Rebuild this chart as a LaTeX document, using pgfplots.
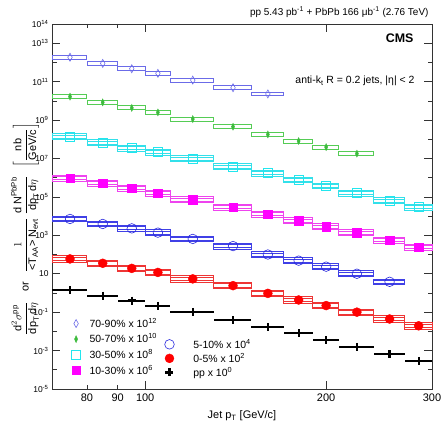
\documentclass[border=0pt]{standalone}
\usepackage{fontspec}
\setmainfont{Liberation Sans}
\usepackage{amsmath}
\usepackage{pgfplots}
\usepackage{pgfplotstable}
\pgfplotsset{compat=1.18}
\definecolor{cviol}{HTML}{6B6BE8}
\definecolor{cgreen}{HTML}{3DBB3D}
\definecolor{cgreenbox}{HTML}{55CC55}
\definecolor{ccyan}{HTML}{22E6EE}
\definecolor{ccyanbox}{HTML}{33E0EA}
\definecolor{cmag}{HTML}{FF00FF}
\definecolor{cmagbox}{HTML}{EE44EE}
\definecolor{cblue}{HTML}{2828DD}
\definecolor{cbluebox}{HTML}{4040E6}
\definecolor{cred}{HTML}{FF0000}
\definecolor{credbox}{HTML}{EE3535}

\pgfplotstableread{
x ex c70 c50 c30 c10 c5 c0 pp
75 5 1.86e12 1.66e10 1.35e8 9.3e5 7.1e3 59 1.41
85 5 8.9e11 8.3e9 6.6e7 5.1e5 3.9e3 35 0.72
95 5 4.7e11 4.3e9 3.5e7 2.8e5 2.3e3 19 0.40
105 5 2.7e11 2.5e9 2.1e7 1.55e5 1.38e3 11.7 0.21
120 10 1.2e11 1.12e9 9.8e6 7.4e4 650 5.4 0.102
140 10 4.8e10 4.5e8 3.8e6 2.9e4 275 2.4 0.039
160 10 2.3e10 1.78e8 1.7e6 1.26e4 100 0.95 0.0162
180 10 nan 8.1e7 7.6e5 5.8e3 48 0.43 0.0079
200 10 nan 3.9e7 3.7e5 2.8e3 23.4 0.22 0.0035
225 15 nan 1.78e7 1.55e5 1.38e3 10 0.1 0.00158
255 15 nan nan 6.3e4 550 3.8 0.044 6.6e-4
285 15 nan nan 2.9e4 245 nan 0.0195 2.95e-4
}\datatable

% bp per unit of ln(x): axis width 380bp over ln(300/70)
\def\xu{261.11}
\pgfdeclareplotmark{sysbox}{%
  \pgfpathrectanglecorners{\pgfpoint{-\wl bp}{-\pgfplotmarksize}}{\pgfpoint{\wr bp}{\pgfplotmarksize}}%
  \pgfpathrectanglecorners{\pgfpoint{-\wl bp}{-\pgfplotmarksize+1.4bp}}{\pgfpoint{\wr bp}{\pgfplotmarksize-1.4bp}}%
  \pgfusepathqstroke}
\pgfdeclareplotmark{sysboxs}{%
  \pgfpathrectanglecorners{\pgfpoint{-\wl bp}{-\pgfplotmarksize}}{\pgfpoint{\wr bp}{\pgfplotmarksize}}%
  \pgfusepathqstroke}
\pgfplotsset{
  sysbox/.style n args={3}{color=#1, only marks, forget plot, scatter, mark=#3, mark size=#2,
    visualization depends on={\xu*ln(\thisrow{x}/(\thisrow{x}-\thisrow{ex})) \as \wl},
    visualization depends on={\xu*ln((\thisrow{x}+\thisrow{ex})/\thisrow{x}) \as \wr},
    scatter/@pre marker code/.code={},
    scatter/@post marker code/.code={},
    mark options={line width=0.8bp, draw=#1, fill=none, solid}}
}

\begin{document}
\begin{tikzpicture}
\useasboundingbox (-52bp,-36bp) rectangle (394bp,389bp);
\begin{axis}[
  at={(0,0)}, anchor=south west,
  scale only axis, width=380bp, height=365bp,
  xmode=log, ymode=log,
  xmin=70, xmax=300, ymin=1e-5, ymax=1e14,
  xtick={100,200,300}, xticklabels={100,200,300},
  extra x ticks={80,90}, extra x tick labels={80,90},
  extra x tick style={major tick length=4.5bp},
  minor xtick={},
  ytick={1e-5,1e-3,0.1,10,1e3,1e5,1e7,1e9,1e11,1e13,1e14},
  yticklabels={10\textsuperscript{-5},10\textsuperscript{-3},10\textsuperscript{-1},10,10\textsuperscript{3},10\textsuperscript{5},10\textsuperscript{7},10\textsuperscript{9},10\textsuperscript{11},10\textsuperscript{13},10\textsuperscript{14}},
  minor ytick={1e-4,1e-2,1,100,1e4,1e6,1e8,1e10,1e12},
  tick align=inside, xtick pos=both, ytick pos=both,
  major tick length=8bp, minor tick length=4.5bp,
  axis line style={line width=0.8bp, black!80},
  tick style={black!80, line width=0.6bp},
  xticklabel style={font=\fontsize{11}{12}\selectfont, yshift=-1bp},
  yticklabel style={font=\fontsize{8.5}{9}\selectfont},
  legend cell align=left,
  legend style={draw=none, fill=none, at={(axis description cs:0.051,0.197)}, anchor=north west,
     font=\fontsize{10.5}{11}\selectfont, row sep=3bp, column sep=8bp, inner sep=0pt, nodes={inner sep=1bp}},
]
% systematic boxes
\addplot[sysbox={cviol}{1.9bp}{sysboxs}] table[x=x, y=c70] {\datatable};
\addplot[sysbox={cgreenbox}{2.0bp}{sysboxs}] table[x=x, y=c50] {\datatable};
\addplot[sysbox={ccyanbox}{2.9bp}{sysbox}] table[x=x, y=c30] {\datatable};
\addplot[sysbox={cmagbox}{2.9bp}{sysbox}] table[x=x, y=c10] {\datatable};
\addplot[sysbox={cbluebox}{2.9bp}{sysbox}] table[x=x, y=c5] {\datatable};
\addplot[sysbox={credbox}{3.2bp}{sysbox}] table[x=x, y=c0] {\datatable};
% points
\addplot[only marks, mark=diamond, mark size=4bp, mark options={cviol, line width=0.6bp, xscale=0.75}]
  table[x=x, y=c70] {\datatable};
\addlegendentry{70-90\% x 10\textsuperscript{12}}
\addplot[only marks, mark=diamond*, mark size=3.5bp, mark options={cgreen, xscale=0.6}]
  table[x=x, y=c50] {\datatable};
\addlegendentry{50-70\% x 10\textsuperscript{10}}
\addplot[only marks, mark=square, mark size=4.5bp, mark options={ccyan, line width=0.6bp}]
  table[x=x, y=c30] {\datatable};
\addlegendentry{30-50\% x 10\textsuperscript{8}}
\addplot[only marks, mark=square*, mark size=4.3bp, mark options={cmag}]
  table[x=x, y=c10] {\datatable};
\addlegendentry{10-30\% x 10\textsuperscript{6}}
\addplot[forget plot, only marks, mark=o, mark size=4.8bp, mark options={cblue, line width=0.6bp}]
  table[x=x, y=c5] {\datatable};
\addplot[forget plot, only marks, mark=*, mark size=4.5bp, mark options={cred}]
  table[x=x, y=c0] {\datatable};
\addplot[forget plot, only marks, mark=+, mark size=4bp, mark options={black, line width=2.2bp},
  error bars/.cd, x dir=both, x explicit, error bar style={black, line width=2bp}, error mark=none]
  table[x=x, y=pp, x error=ex] {\datatable};
\end{axis}
\begin{axis}[
  at={(0,0)}, anchor=south west,
  scale only axis, width=380bp, height=365bp,
  hide axis, xmin=0, xmax=1, ymin=0, ymax=1,
  legend cell align=left,
  legend style={draw=none, fill=none, at={(axis description cs:0.296,0.14)}, anchor=north west,
     font=\fontsize{10.5}{11}\selectfont, row sep=1.5bp, column sep=18bp, inner sep=0pt, nodes={inner sep=1bp}},
]
\addlegendimage{only marks, mark=o, mark size=4.8bp, mark options={cblue, line width=0.6bp}}
\addlegendentry{5-10\% x 10\textsuperscript{4}}
\addlegendimage{only marks, mark=*, mark size=4.5bp, mark options={cred}}
\addlegendentry{0-5\% x 10\textsuperscript{2}}
\addlegendimage{only marks, mark=+, mark size=4bp, mark options={black, line width=2.2bp}}
\addlegendentry{pp x 10\textsuperscript{0}}
\end{axis}
\node[anchor=east, font=\fontsize{10}{11}\selectfont] at (380bp,377bp) {pp 5.43 pb\textsuperscript{-1} + PbPb 166 μb\textsuperscript{-1} (2.76 TeV)};
\node[anchor=east, font=\bfseries\fontsize{12.5}{13}\selectfont] at (365bp,351bp) {CMS};
\node[anchor=east, font=\fontsize{10.5}{11}\selectfont] at (366bp,308bp) {anti-k\textsubscript{t} R = 0.2 jets, |η| < 2};
\node[font=\fontsize{11}{12}\selectfont] at (190bp,-27bp) {Jet p\textsubscript{T} [GeV/c]};
\node[rotate=90, font=\fontsize{11}{12}\selectfont] at (-27bp,160bp) {$\dfrac{\text{d}^{2}\sigma^{\text{pp}}}{\text{dp}_{\text{T}}\,\text{d}\eta}$\hspace{10bp}or\hspace{10bp}$\dfrac{1}{\text{<T}_{\text{AA}}\text{> N}_{\text{evt}}}\hspace{3bp}\dfrac{\text{d N}^{\text{PbPb}}}{\text{dp}_{\text{T}}\,\text{d}\eta}\hspace{7bp}\left[\dfrac{\text{nb}}{\text{GeV/c}}\right]$};
\end{tikzpicture}
\end{document}
